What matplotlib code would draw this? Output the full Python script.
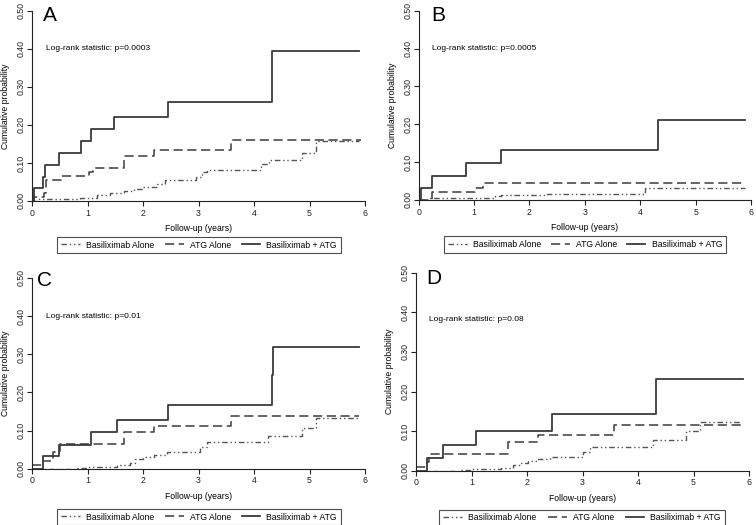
import matplotlib
matplotlib.use("Agg")
import matplotlib.pyplot as plt

plt.rcParams['font.family'] = ['Liberation Sans', 'DejaVu Sans']

# ---------------- data (step functions: event times, cumulative probability) -------------
# Panel A
A_combo_t = [0, 0.03, 0.20, 0.24, 0.49, 0.88, 1.07, 1.48, 2.45, 4.32, 5.90]
A_combo_y = [0, 0.033, 0.064, 0.095, 0.126, 0.157, 0.189, 0.221, 0.260, 0.394, 0.394]
A_atg_t = [0, 0.03, 0.21, 0.26, 0.52, 1.03, 1.10, 1.66, 2.20, 3.58, 5.92]
A_atg_y = [0, 0.011, 0.022, 0.054, 0.065, 0.075, 0.088, 0.118, 0.134, 0.159, 0.159]
A_basi_t = [0, 0.10, 0.86, 1.17, 1.40, 1.65, 1.83, 2.00, 2.25, 2.40, 2.95, 3.06, 3.15,
            4.13, 4.27, 4.86, 5.12, 5.90]
A_basi_y = [0, 0.004, 0.009, 0.016, 0.020, 0.026, 0.032, 0.038, 0.045, 0.055, 0.064, 0.075,
            0.082, 0.097, 0.108, 0.127, 0.157, 0.157]

# Panel B
B_combo_t = [0, 0.05, 0.24, 0.86, 1.48, 4.32, 5.90]
B_combo_y = [0, 0.032, 0.063, 0.097, 0.133, 0.212, 0.212]
B_atg_t = [0, 0.235, 1.02, 1.17, 5.87]
B_atg_y = [0, 0.020, 0.031, 0.046, 0.046]
B_basi_t = [0, 0.20, 1.38, 1.48, 2.31, 4.09, 5.90]
B_basi_y = [0, 0.005, 0.010, 0.013, 0.017, 0.031, 0.031]

# Panel C
C_combo_t = [0, 0.20, 0.49, 1.07, 1.53, 2.45, 4.32, 4.34, 5.90]
C_combo_y = [0, 0.033, 0.063, 0.095, 0.128, 0.168, 0.245, 0.320, 0.320]
C_atg_t = [0, 0.20, 0.37, 0.50, 1.65, 2.20, 3.58, 5.90]
C_atg_y = [0.011, 0.021, 0.043, 0.065, 0.095, 0.112, 0.137, 0.137]
C_basi_t = [0, 0.80, 1.02, 1.53, 1.77, 1.86, 2.00, 2.19, 2.43, 3.03, 3.15, 4.25, 4.87,
            5.12, 5.90]
C_basi_y = [0, 0.003, 0.005, 0.010, 0.016, 0.025, 0.031, 0.036, 0.043, 0.058, 0.070,
            0.086, 0.106, 0.134, 0.134]

# Panel D
D_combo_t = [0, 0.20, 0.48, 1.08, 2.45, 4.32, 5.89]
D_combo_y = [0, 0.031, 0.064, 0.099, 0.144, 0.231, 0.231]
D_atg_t = [0, 0.19, 0.23, 1.65, 2.19, 3.56, 5.85]
D_atg_y = [0.010, 0.021, 0.042, 0.072, 0.090, 0.116, 0.116]
D_basi_t = [0, 0.79, 1.00, 1.54, 1.75, 1.87, 2.02, 2.20, 2.41, 3.01, 3.13, 4.27, 4.87,
            5.12, 5.85]
D_basi_y = [0, 0.002, 0.004, 0.008, 0.014, 0.020, 0.025, 0.029, 0.034, 0.047, 0.061,
            0.078, 0.101, 0.124, 0.124]

panel_letters = ["A", "B", "C", "D"]
pvalues = ["Log-rank statistic: p=0.0003", "Log-rank statistic: p=0.0005",
           "Log-rank statistic: p=0.01", "Log-rank statistic: p=0.08"]
series_names = ["Basiliximab Alone", "ATG Alone", "Basiliximab + ATG"]
x_ticks = [0, 1, 2, 3, 4, 5, 6]
y_ticks = [0.0, 0.1, 0.2, 0.3, 0.4, 0.5]
y_tick_labels = ["0.00", "0.10", "0.20", "0.30", "0.40", "0.50"]

panels = [
    (A_basi_t, A_basi_y, A_atg_t, A_atg_y, A_combo_t, A_combo_y),
    (B_basi_t, B_basi_y, B_atg_t, B_atg_y, B_combo_t, B_combo_y),
    (C_basi_t, C_basi_y, C_atg_t, C_atg_y, C_combo_t, C_combo_y),
    (D_basi_t, D_basi_y, D_atg_t, D_atg_y, D_combo_t, D_combo_y),
]

# ---------------- layout ----------------
W, H = 756, 525
fig = plt.figure(figsize=(W / 100, H / 100), dpi=100)

def fr(l, t, r, b):
    return [l / W, 1 - b / H, (r - l) / W, (b - t) / H]

axes_px = [(32, 10.7, 365, 201), (418.7, 10.7, 751, 200),
           (32, 278, 365, 468.7), (416, 272.7, 749, 470.7)]
legend_px = [(57, 237, 341, 253), (444, 237, 726, 252),
             (57, 509, 341, 525), (439, 510, 725, 526)]
letter_pos = [(0.20, 0.488), (0.22, 0.488), (0.09, 0.494), (0.18, 0.486)]
text_pos = [(0.25, 0.40), (0.24, 0.40), (0.25, 0.40), (0.23, 0.383)]

styles = [
    dict(color="#555555", lw=1.0, ls=(0, (4, 2, 1, 2, 1, 2))),
    dict(color="#3c3c3c", lw=1.1, ls=(0, (6, 3))),
    dict(color="#3a3a3a", lw=1.3, ls="-"),
]

for i, data in enumerate(panels):
    ax = fig.add_axes(fr(*axes_px[i]))
    handles = []
    for k in range(3):
        t = data[2 * k]
        y = data[2 * k + 1]
        h, = ax.step(t, y, where="post", label=series_names[k], **styles[k])
        handles.append(h)
    ax.set_xlim(0, 6)
    ax.set_ylim(0, 0.5)
    ax.set_xticks(x_ticks)
    ax.set_yticks(y_ticks)
    ax.set_yticklabels(y_tick_labels)
    for s in ("top", "right"):
        ax.spines[s].set_visible(False)
    for s in ("left", "bottom"):
        ax.spines[s].set_linewidth(0.8)
        ax.spines[s].set_color("#222222")
    ax.tick_params(length=3.5, width=0.8, labelsize=6.3, colors="#222222")
    ax.tick_params(axis="x", pad=2)
    ax.tick_params(axis="y", pad=0.8)
    plt.setp(ax.get_yticklabels(), rotation=90, va="center")
    ax.set_xlabel("Follow-up (years)", fontsize=6.2)
    ax.set_ylabel("Cumulative probability", fontsize=6.2)
    ax.xaxis.set_label_coords(0.5, -0.12)
    ax.yaxis.set_label_coords(-0.066, 0.5)
    ax.text(letter_pos[i][0], letter_pos[i][1], panel_letters[i], fontsize=15,
            ha="left", va="center")
    ax.text(text_pos[i][0], text_pos[i][1], pvalues[i], fontsize=6,
            ha="left", va="center")
    l, t, r, b = legend_px[i]
    leg = ax.legend(handles=handles, ncol=3, mode="expand",
                    bbox_to_anchor=(l / W, 1 - b / H, (r - l) / W, (b - t) / H),
                    bbox_transform=fig.transFigure, loc="center",
                    fontsize=6.2, frameon=True, fancybox=False, handlelength=2.2,
                    borderpad=0.45, handletextpad=0.7, borderaxespad=0)
    leg.get_frame().set_edgecolor("#222222")
    leg.get_frame().set_linewidth(0.8)

fig.savefig("out.png", dpi=100)
